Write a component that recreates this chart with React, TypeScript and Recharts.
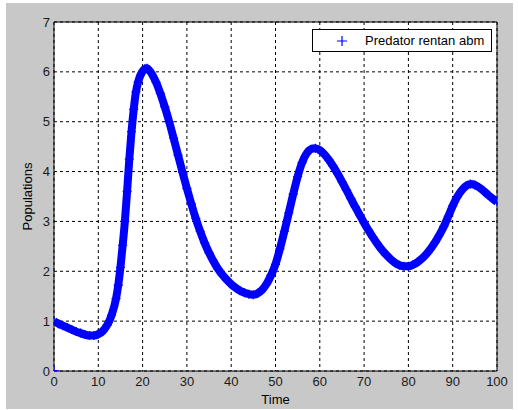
import React from 'react';
import { ComposedChart, Line, Scatter, XAxis, YAxis, CartesianGrid, ReferenceLine, Legend } from 'recharts';

const times = [0,1,2,3,4,5,6,7,8,9,10,11,12,13,14,14.5,15,15.5,16,16.5,17,17.5,18,18.5,19,19.5,20,20.5,21,21.5,22,23,24,25,26,27,28,29,30,31,32,33,34,35,36,37,38,39,40,41,42,43,44,45,46,47,48,49,50,51,52,53,54,55,56,57,58,59,60,61,62,63,64,65,66,67,68,69,70,71,72,73,74,75,76,77,78,79,80,81,82,83,84,85,86,87,88,89,90,91,92,93,94,95,96,97,98,99,100];
const predator = [1.0,0.95,0.91,0.87,0.83,0.79,0.76,0.73,0.71,0.71,0.74,0.8,0.92,1.12,1.45,1.72,2.08,2.52,3.0,3.6,4.25,4.8,5.25,5.6,5.8,5.93,6.01,6.06,6.07,6.03,5.97,5.8,5.57,5.3,5.0,4.67,4.33,3.99,3.66,3.35,3.06,2.8,2.57,2.37,2.2,2.05,1.93,1.83,1.74,1.67,1.61,1.57,1.54,1.53,1.56,1.63,1.75,1.92,2.14,2.45,2.8,3.17,3.55,3.9,4.18,4.36,4.45,4.47,4.43,4.35,4.24,4.11,3.96,3.8,3.63,3.46,3.29,3.13,2.97,2.82,2.68,2.55,2.43,2.33,2.24,2.17,2.12,2.1,2.1,2.13,2.18,2.25,2.34,2.45,2.58,2.73,2.9,3.1,3.31,3.49,3.62,3.71,3.75,3.73,3.68,3.61,3.53,3.46,3.39];
const originPoint = [{ t: 0, y: 0 }];
const xTicks = [0,10,20,30,40,50,60,70,80,90,100];
const yTicks = [0,1,2,3,4,5,6,7];
const seriesName = 'Predator rentan abm';

const data = times.map((t, i) => ({ t, y: predator[i] }));

const BLUE = '#0000ff';
const FONT = '"Liberation Sans", Arial, sans-serif';

const Plus = (props: any) => {
  const { cx, cy, index } = props;
  if (cx == null || cy == null) return null;
  return <path key={`p-${index}`} d={`M${cx - 4.5},${cy}h9M${cx},${cy - 4.5}v9`} stroke={BLUE} strokeWidth={1.3} fill="none" />;
};

const LegendBox = () => (
  <div style={{ width: 178, height: 21, border: '1px solid #000', background: '#fff', position: 'relative', fontFamily: FONT, fontSize: 13, color: '#000' }}>
    <svg width={12} height={12} style={{ position: 'absolute', left: 23, top: 5 }}>
      <path d="M1,6h10M6,1v10" stroke={BLUE} strokeWidth={1.2} />
    </svg>
    <span style={{ position: 'absolute', left: 52, top: 3, whiteSpace: 'nowrap' }}>{seriesName}</span>
  </div>
);

export default function App() {
  return (
    <div style={{ position: 'absolute', left: 0, top: 0, width: 518, height: 410, background: '#fff' }}>
      <div style={{ position: 'absolute', left: 6, top: 3, width: 507, height: 406, background: '#c8c8c8' }} />
      <div style={{ position: 'absolute', left: 0, top: 0 }}>
        <ComposedChart width={518} height={410} data={data} margin={{ top: 22, right: 21, bottom: 0, left: 0 }}>
          <CartesianGrid fill="#fff" stroke="#000" strokeDasharray="3 3" />
          <XAxis
            dataKey="t"
            type="number"
            domain={[0, 100]}
            ticks={xTicks}
            height={39}
            tickSize={0}
            tickMargin={6}
            axisLine={{ stroke: '#000' }}
            tick={{ fill: '#1a1a1a', fontSize: 13, fontFamily: FONT }}
            label={{ value: 'Time', position: 'insideBottom', offset: 6, fill: '#000', fontSize: 13, fontFamily: FONT }}
            allowDataOverflow
          />
          <YAxis
            type="number"
            domain={[0, 7]}
            ticks={yTicks}
            width={54}
            tickSize={0}
            tickMargin={4}
            axisLine={{ stroke: '#000' }}
            tick={{ fill: '#1a1a1a', fontSize: 13, fontFamily: FONT }}
            label={{ value: 'Populations', angle: -90, position: 'center', fill: '#000', fontSize: 13, fontFamily: FONT }}
            allowDataOverflow
          />
          <ReferenceLine y={7} stroke="#000" />
          <ReferenceLine x={100} stroke="#000" />
          <Legend
            layout="vertical"
            align="center"
            verticalAlign="middle"
            content={() => <LegendBox />}
            wrapperStyle={{ position: 'absolute', left: 312, top: 29, width: 180, height: 23 }}
          />
          <Line
            dataKey="y"
            name={seriesName}
            type="monotone"
            stroke={BLUE}
            strokeWidth={8}
            dot={Plus}
            activeDot={false}
            isAnimationActive={false}
          />
          <Scatter
            data={originPoint}
            dataKey="y"
            fill={BLUE}
            shape={(p: any) => <path d={`M${p.cx - 5},${p.cy}h10M${p.cx},${p.cy - 5}v10`} stroke={BLUE} strokeWidth={1.3} />}
            isAnimationActive={false}
            legendType="none"
          />
        </ComposedChart>
      </div>
    </div>
  );
}
